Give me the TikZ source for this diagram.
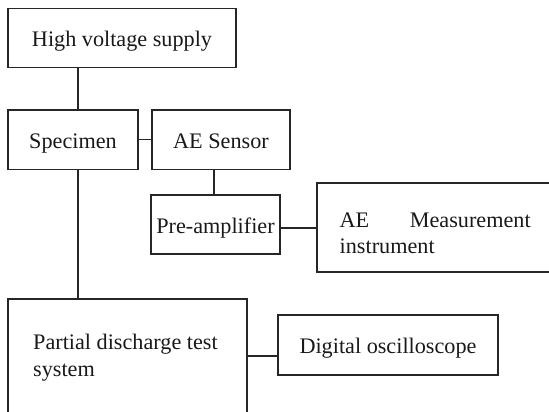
\documentclass[tikz,border=0pt]{standalone}
\usepackage{fontspec}
\setmainfont{Liberation Serif}
\begin{document}
\begin{tikzpicture}[x=1pt,y=-1pt,
  box/.style={draw=black!85,line width=1.4pt,rectangle,inner sep=0pt,
    text=black!90,text height=17.4pt,text depth=0pt,
    font=\fontsize{22.2}{26.5}\selectfont},
  frame/.style={draw=black!85,line width=1.4pt,rectangle,inner sep=0pt},
  txt/.style={inner sep=0pt,text=black!90,font=\fontsize{22.2}{26.5}\selectfont},
  link/.style={draw=black!85,line width=1.4pt}]
\useasboundingbox (0,0) rectangle (549,412);
\clip (0,0) rectangle (549,412);
\node[box,minimum width=228pt,minimum height=59.4pt] (hv) at (122,38) {High voltage supply};
\node[box,minimum width=130pt,minimum height=59.5pt] (spec) at (73,139.75) {Specimen};
\node[box,minimum width=138pt,minimum height=59.5pt] (aes) at (221,139.75) {AE Sensor};
\node[box,minimum width=129pt,minimum height=59pt] (pre) at (215.5,224.5) {Pre-amplifier};
\node[frame,minimum width=242pt,minimum height=89pt] (aem) at (438,227.5) {};
\node[txt,anchor=base west] (aemtext) at (339.5,227) {\hbox to 191pt{AE\hfill Measurement}};
\node[txt,anchor=base west] (aemtext2) at (339.5,253.5) {instrument};
\node[frame,minimum width=239pt,minimum height=124pt] (pd) at (127.5,361) {};
\node[txt,anchor=base west] (pdtext) at (33,349.5) {Partial discharge test};
\node[txt,anchor=base west] (pdtext2) at (33,376) {system};
\node[box,minimum width=220pt,minimum height=60pt] (dos) at (388,345) {Digital oscilloscope};
\draw[link] ([xshift=5pt]spec.north) -- ([xshift=5pt]spec.north |- hv.south);
\draw[link] (spec.east) -- (aes.west);
\draw[link] ([xshift=-1.5pt]pre.north) -- ([xshift=-1.5pt]pre.north |- aes.south);
\draw[link] ([yshift=-3.5pt]pre.east) -- ([yshift=-3.5pt]pre.east -| aem.west);
\draw[link] ([xshift=5pt]spec.south) -- ([xshift=5pt]spec.south |- pd.north);
\draw[link] ([yshift=-11pt]dos.west) -- ([yshift=-11pt]dos.west -| pd.east);
\end{tikzpicture}
\end{document}
